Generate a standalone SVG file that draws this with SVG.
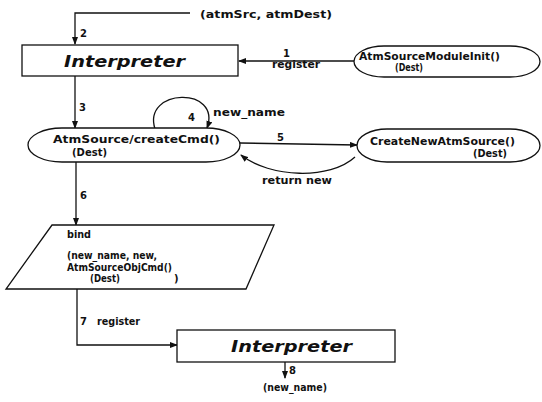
<svg xmlns="http://www.w3.org/2000/svg" width="542" height="402" viewBox="0 0 542 402">
<style>
  .t { font-family: "DejaVu Sans", "Liberation Sans", sans-serif; font-weight: bold; font-size: 10px; fill: #111; }
  .big { font-family: "DejaVu Sans", "Liberation Sans", sans-serif; font-weight: bold; font-style: italic; font-size: 16px; fill: #111; }
  .shape { fill: #fff; stroke: #111; stroke-width: 1.3; }
  .line { fill: none; stroke: #111; stroke-width: 1.3; }
</style>
<defs>
  <marker id="arr" markerWidth="8" markerHeight="6" refX="7" refY="3" orient="auto" markerUnits="userSpaceOnUse">
    <path d="M0,0 L8,3 L0,6 Z" fill="#111"/>
  </marker>
</defs>
<rect width="542" height="402" fill="#fff"/>

<g id="connectors">
  <path class="line" d="M190,13 H75 V44" marker-end="url(#arr)"/>
  <path class="line" d="M354,61 H239" marker-end="url(#arr)"/>
  <path class="line" d="M75,76 V128" marker-end="url(#arr)"/>
  <path class="line" d="M155,129 C142,88 222,86 207,128" marker-end="url(#arr)"/>
  <path class="line" d="M240,143 L357,145" marker-end="url(#arr)"/>
  <path class="line" d="M355,157 C330,180 270,178 241,155" marker-end="url(#arr)"/>
  <path class="line" d="M76,162 V225" marker-end="url(#arr)"/>
  <path class="line" d="M77,289 V345 H177" marker-end="url(#arr)"/>
  <path class="line" d="M285,362 V378" marker-end="url(#arr)"/>
  <text class="t" x="200" y="18" textLength="132" lengthAdjust="spacingAndGlyphs">(atmSrc, atmDest)</text>
  <text class="t" x="80" y="37">2</text>
  <text class="t" x="283" y="57">1</text>
  <text class="t" x="272" y="68" textLength="48" lengthAdjust="spacingAndGlyphs">register</text>
  <text class="t" x="79" y="111">3</text>
  <text class="t" x="188" y="121">4</text>
  <text class="t" x="213" y="116" textLength="72" lengthAdjust="spacingAndGlyphs">new_name</text>
  <text class="t" x="277" y="141">5</text>
  <text class="t" x="262" y="184" textLength="70" lengthAdjust="spacingAndGlyphs">return new</text>
  <text class="t" x="80" y="199">6</text>
  <text class="t" x="80" y="325">7</text>
  <text class="t" x="97" y="325" textLength="43" lengthAdjust="spacingAndGlyphs">register</text>
  <text class="t" x="289" y="374">8</text>
  <text class="t" x="263" y="391" textLength="64" lengthAdjust="spacingAndGlyphs">(new_name)</text>
</g>

<g id="interpreter1">
  <rect class="shape" x="22" y="45" width="216" height="31"/>
  <text class="big" x="64" y="67" textLength="121" lengthAdjust="spacingAndGlyphs">Interpreter</text>
</g>

<g id="moduleInit">
  <rect class="shape" x="354" y="46" width="186" height="31" rx="30" ry="15.5"/>
  <text class="t" x="359" y="60" textLength="141" lengthAdjust="spacingAndGlyphs">AtmSourceModuleInit()</text>
  <text class="t" x="395" y="71" textLength="28" lengthAdjust="spacingAndGlyphs">(Dest)</text>
</g>

<g id="createCmd">
  <rect class="shape" x="28" y="128" width="212" height="34" rx="34" ry="17"/>
  <text class="t" x="53" y="143" textLength="167" lengthAdjust="spacingAndGlyphs">AtmSource/createCmd()</text>
  <text class="t" x="72" y="156" textLength="35" lengthAdjust="spacingAndGlyphs">(Dest)</text>
</g>

<g id="createNew">
  <rect class="shape" x="357" y="129" width="183" height="33" rx="30" ry="16.5"/>
  <text class="t" x="370" y="145" textLength="145" lengthAdjust="spacingAndGlyphs">CreateNewAtmSource()</text>
  <text class="t" x="473" y="157" textLength="34" lengthAdjust="spacingAndGlyphs">(Dest)</text>
</g>

<g id="bind">
  <polygon class="shape" points="52,225 274,225 246,289 6,289"/>
  <text class="t" x="67" y="238" textLength="24" lengthAdjust="spacingAndGlyphs">bind</text>
  <text class="t" x="67" y="259" textLength="90" lengthAdjust="spacingAndGlyphs">(new_name, new,</text>
  <text class="t" x="67" y="271" textLength="105" lengthAdjust="spacingAndGlyphs">AtmSourceObjCmd()</text>
  <text class="t" x="90" y="282" textLength="30" lengthAdjust="spacingAndGlyphs">(Dest)</text>
  <text class="t" x="174" y="282">)</text>
</g>

<g id="interpreter2">
  <rect class="shape" x="177" y="330" width="218" height="32"/>
  <text class="big" x="231" y="352" textLength="121" lengthAdjust="spacingAndGlyphs">Interpreter</text>
</g>
</svg>
